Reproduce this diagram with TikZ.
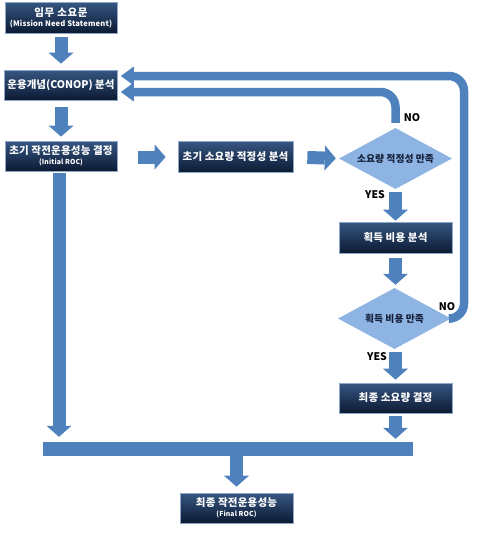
\documentclass[tikz,border=0pt]{standalone}
\usepackage{fontspec}
\setmainfont{Noto Sans CJK KR}
\usetikzlibrary{arrows.meta,shapes.geometric,calc}
\definecolor{arrowblue}{HTML}{4F81BD}
\definecolor{boxtop}{HTML}{365681}
\definecolor{boxbot}{HTML}{0C1A33}
\definecolor{boxedge}{HTML}{8EA6C8}
\definecolor{dfill}{HTML}{8DB4E2}
\definecolor{dtext}{HTML}{15203A}
\newcommand{\mainf}{\fontsize{10.5}{12}\selectfont\bfseries\addfontfeatures{LetterSpace=2}}
\newcommand{\subf}{\fontsize{7.6}{8.5}\selectfont\bfseries}
\tikzset{
  box/.style={rectangle, top color=boxtop, bottom color=boxbot, draw=boxedge, line width=0.7pt,
    minimum width=113pt, minimum height=30pt, inner sep=1pt, align=center, text=white, font=\mainf},
  dec/.style={diamond, fill=dfill, minimum width=113pt, minimum height=61pt, aspect=1.85,
    inner sep=0pt, text=dtext, font=\fontsize{9.8}{11}\selectfont\bfseries},
  blockarrow/.style={draw=arrowblue, line width=13pt,
    -{Triangle[width=25pt,length=11pt,line width=0pt]}},
  loopline/.style={draw=arrowblue, line width=8.5pt, rounded corners=15pt,
    -{Triangle[width=19pt,length=13pt,line width=0pt]}},
  lbl/.style={font=\fontsize{10.5}{12}\selectfont\bfseries, text=black, inner sep=0pt},
  barstyle/.style={rectangle, fill=arrowblue, minimum width=370pt, minimum height=14pt, inner sep=0pt}
}
\begin{document}
\begin{tikzpicture}[x=1pt,y=1pt]
\useasboundingbox (0,0) rectangle (486,-539);
\node[box, minimum width=112pt, minimum height=31pt] (b1) at (61,-17.5) {{\addfontfeatures{LetterSpace=6}임무 소요문}\\[-2pt]{\subf (Mission Need Statement)}};
\node[box, font=\fontsize{10.5}{12}\selectfont\bfseries] (b2) at (61,-85) {운용개념(CONOP) 분석};
\node[box, minimum width=112pt] (b3) at (61,-156) {초기 작전운용성능 결정\\[-2pt]{\fontsize{6.8}{8}\selectfont\bfseries (Initial ROC)}};
\node[box, minimum width=115pt, minimum height=31pt] (b4) at (235.5,-157) {초기 소요량 적정성 분석};
\node[dec] (d1) at (395.5,-158.5) {소요량 적정성 만족};
\node[box, minimum height=31pt] (b5) at (395.5,-237.5) {획득 비용 분석};
\node[dec] (d2) at (394.5,-318.5) {획득 비용 만족};
\node[box] (b6) at (395.5,-398) {최종 소요량 결정};
\node[barstyle] (bar) at (228,-449) {};
\node[box] (b7) at (236.5,-508) {최종 작전운용성능\\[-2pt]{\fontsize{6.8}{8}\selectfont\bfseries (Final ROC)}};
% labels
\node[lbl] (no1) at (412,-118) {NO};
\node[lbl] (yes1) at (375,-195) {YES};
\node[lbl] (no2) at (447,-307) {NO};
\node[lbl] (yes2) at (377,-357) {YES};
% block arrows
\draw[blockarrow, shorten <=4pt, shorten >=6pt] (b1.south) -- (b2.north);
\draw[blockarrow, shorten <=7pt, shorten >=4pt] (b2.south) -- (b3.north);
\draw[blockarrow, shorten <=21pt, shorten >=12pt] (b3.east |- b4.east) -- (b4.west);
\draw[blockarrow, shorten <=14pt, shorten >=3pt] (b4.east) -- (d1.west);
\draw[blockarrow, shorten <=3pt, shorten >=1pt] (d1.south) -- (b5.north);
\draw[blockarrow, shorten <=5pt, shorten >=3pt] (b5.south) -- (d2.north -| b5.south);
\draw[blockarrow, shorten <=3pt, shorten >=3pt] (d2.south -| b6.north) -- (b6.north);
\draw[blockarrow, shorten <=3pt, shorten >=3pt] (b6.south) -- (b6.south |- bar.north);
\draw[blockarrow, shorten <=2pt, shorten >=5pt] ([xshift=-2pt]b3.south) -- ([xshift=-2pt]b3.south |- bar.north);
\draw[blockarrow, shorten >=6pt] (b7.north |- bar.south) -- (b7.north);
% feedback loops
\coordinate (in1) at ($(b2.east)+(0,-7)$);
\coordinate (out1) at ($(b2.east)+(0,9)$);
\coordinate (loopc) at (464,-76);
\draw[loopline, shorten <=5pt, shorten >=3pt] (d1.north) |- (in1);
\draw[loopline, shorten >=3pt] (d2.east) -| (loopc) -- (out1);
\end{tikzpicture}
\end{document}
